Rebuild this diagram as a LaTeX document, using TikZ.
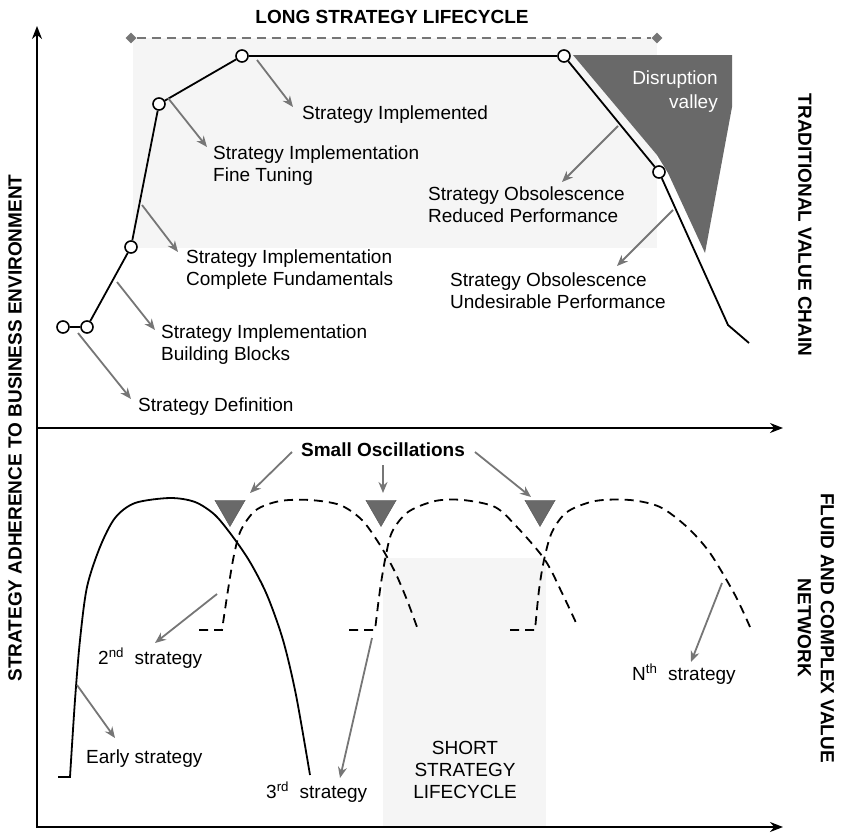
\documentclass[tikz,border=0pt]{standalone}
\usepackage{fontspec}
\setmainfont{Liberation Sans}
\usetikzlibrary{arrows.meta,shapes.geometric}

\definecolor{arrowgray}{RGB}{118,118,118}
\definecolor{darkfill}{RGB}{105,105,105}
\definecolor{lightbg}{RGB}{245,245,245}

\begin{document}
\begin{tikzpicture}[x=1pt, y=-1pt,
    txt/.style={font=\fontsize{19}{22}\selectfont, inner sep=0pt, align=left, anchor=base west},
    heading/.style={font=\fontsize{19}{23}\selectfont\bfseries, inner sep=0pt, align=center},
    pt/.style={circle, draw, fill=white, line width=1.6pt, minimum size=12pt, inner sep=0pt},
    pointer/.style={draw=arrowgray, line width=1.8pt, -{Stealth[length=11pt,width=9pt]}},
    axis/.style={line width=1.8pt, -{Stealth[length=13pt,width=10pt]}},
    curve/.style={line width=1.8pt},
    dcurve/.style={line width=1.8pt, dash pattern=on 9pt off 6pt},
    osc/.style={regular polygon, regular polygon sides=3, shape border rotate=180, fill=darkfill, draw=darkfill!80!black, minimum size=35pt, inner sep=0pt},
    marker/.style={diamond, fill=arrowgray, minimum size=11pt, inner sep=0pt}]

    \useasboundingbox (0,0) rectangle (842,833);

    % 背景の領域
    \fill[lightbg] (133,38) rectangle (657,248);
    \fill[lightbg] (383,558) rectangle (546,826);
    \fill[darkfill] (573,55) -- (732,55) -- (732,107) -- (705,253) -- (668,173) -- (657,155) -- cycle;

    % 軸の定義
    \coordinate (O) at (37,828);
    \coordinate (ytop) at (37,26);
    \coordinate (xend) at (783,827);
    \coordinate (mid) at (37,428);
    \coordinate (midend) at (783,428);
    \draw[axis] (O) -- (ytop);
    \draw[axis] (37,827) -- (xend);
    \draw[axis] (mid) -- (midend);

    % 軸のラベル
    \node[heading, rotate=90] (ylab) at (15,428) {STRATEGY ADHERENCE TO BUSINESS ENVIRONMENT};
    \node[heading, rotate=-90] (tvc) at (805,225) {TRADITIONAL VALUE CHAIN};
    \node[heading, rotate=-90] (fcvn) at (816,628) {FLUID AND COMPLEX VALUE\\NETWORK};
    \node[heading] (long) at (392,17) {LONG STRATEGY LIFECYCLE};

    % 長いライフサイクル
    \node[marker] (d1) at (131,38) {};
    \node[marker] (d2) at (657,38) {};
    \draw[arrowgray, line width=1.8pt, dash pattern=on 9pt off 6pt] (d1) -- (d2);

    % 従来の曲線
    \node[pt] (p1) at (63,327) {};
    \node[pt] (p2) at (87,327) {};
    \node[pt] (p3) at (131,247) {};
    \node[pt] (p4) at (159,104) {};
    \node[pt] (p5) at (242,56) {};
    \node[pt] (p6) at (564,56) {};
    \node[pt] (p7) at (659,172) {};
    \coordinate (q1) at (728,325);
    \coordinate (q2) at (749,343);
    \draw[curve] (p1) -- (p2);
    \draw[curve] (p2) -- (p3);
    \draw[curve] (p3) -- (p4);
    \draw[curve] (p4) -- (p5);
    \draw[curve] (p5) -- (p6);
    \draw[curve] (p6) -- (p7);
    \draw[curve] (p7) -- (q1) -- (q2);

    \node[txt, anchor=base east, align=right, text=white, font=\fontsize{19}{24}\selectfont] (dv) at (718,108) {Disruption\\valley};

    % 上段のラベル
    \node[txt] (def) at (138,411) {Strategy Definition};
    \node[txt] (bb) at (161,360) {Strategy Implementation\\Building Blocks};
    \node[txt] (cf) at (186,285) {Strategy Implementation\\Complete Fundamentals};
    \node[txt] (ft) at (213,181) {Strategy Implementation\\Fine Tuning};
    \node[txt] (impl) at (302,119) {Strategy Implemented};
    \node[txt] (rp) at (428,222) {Strategy Obsolescence\\Reduced Performance};
    \node[txt] (up) at (450,308) {Strategy Obsolescence\\Undesirable Performance};

    \coordinate (a1) at (78,333);   \coordinate (b1) at (131,399);
    \coordinate (a2) at (117,282);  \coordinate (b2) at (155,330);
    \coordinate (a3) at (142,205);  \coordinate (b3) at (178,252);
    \coordinate (a4) at (168,98);   \coordinate (b4) at (207,147);
    \coordinate (a5) at (257,60);   \coordinate (b5) at (293,107);
    \coordinate (a6) at (618,126);  \coordinate (b6) at (562,182);
    \coordinate (a7) at (673,210);  \coordinate (b7) at (617,266);
    \draw[pointer] (a1) -- (b1);
    \draw[pointer] (a2) -- (b2);
    \draw[pointer] (a3) -- (b3);
    \draw[pointer] (a4) -- (b4);
    \draw[pointer] (a5) -- (b5);
    \draw[pointer] (a6) -- (b6);
    \draw[pointer] (a7) -- (b7);

    % 下段: 短いライフサイクル
    \node[txt, anchor=base, align=center] (short) at (465,798) {SHORT\\STRATEGY\\LIFECYCLE};

    \draw[curve] (58,777) -- plot[smooth] coordinates {(70,777) (75,700) (80,640) (87,587) (100,547) (115,518) (135,503) (170,498) (195,502) (215,515) (233,537) (250,562) (267,595) (283,640) (296,695) (310,775)};
    \draw[dcurve] (199,630) -- plot[smooth] coordinates {(222,630) (228,590) (234,555) (241,530) (256,510) (280,501) (310,500) (340,505) (362,520) (380,545) (395,572) (407,600) (417,627)};
    \draw[dcurve] (349,630) -- plot[smooth] coordinates {(375,630) (380,590) (385,560) (392,532) (408,512) (435,501) (463,500) (495,507) (517,527) (545,560) (563,595) (578,627)};
    \draw[dcurve] (510,630) -- plot[smooth] coordinates {(535,630) (539,590) (544,560) (552,532) (567,512) (595,501) (630,500) (660,507) (687,527) (710,553) (735,595) (750,627)};

    % 小さな振動
    \node[heading] (so) at (383,450) {Small Oscillations};
    \node[osc] (t1) at (230,509) {};
    \node[osc] (t2) at (381,509) {};
    \node[osc] (t3) at (540,509) {};
    \coordinate (s1) at (292,452);  \coordinate (e1) at (250,493);
    \coordinate (s2) at (383,465);  \coordinate (e2) at (383,493);
    \coordinate (s3) at (475,452);  \coordinate (e3) at (531,497);
    \draw[pointer] (s1) -- (e1);
    \draw[pointer] (s2) -- (e2);
    \draw[pointer] (s3) -- (e3);

    % 戦略のラベル
    \node[txt] (early) at (86,763) {Early strategy};
    \node[txt] (second) at (98,664) {2\textsuperscript{nd}\ \ strategy};
    \node[txt] (third) at (266,798) {3\textsuperscript{rd}\ \ strategy};
    \node[txt] (nth) at (632,680) {N\textsuperscript{th}\ \ strategy};

    \coordinate (f1) at (77,685);   \coordinate (g1) at (115,738);
    \coordinate (f2) at (217,594);  \coordinate (g2) at (155,643);
    \coordinate (f3) at (372,638);  \coordinate (g3) at (340,778);
    \coordinate (f4) at (722,583);  \coordinate (g4) at (691,662);
    \draw[pointer] (f1) -- (g1);
    \draw[pointer] (f2) -- (g2);
    \draw[pointer] (f3) -- (g3);
    \draw[pointer] (f4) -- (g4);
\end{tikzpicture}
\end{document}
